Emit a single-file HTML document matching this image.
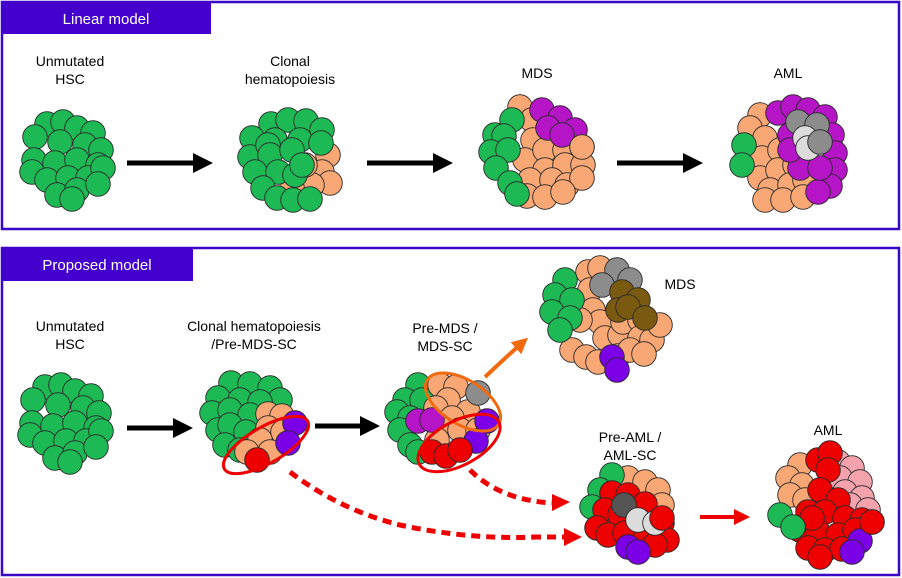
<!DOCTYPE html>
<html><head><meta charset="utf-8"><style>
body{margin:0;background:#fff;}
svg{display:block;font-family:"Liberation Sans",Arial,sans-serif;}
.g circle{stroke:#2a2a2a;stroke-width:0.9;r:12.3px;}
</style></head><body>
<svg width="902" height="578" viewBox="0 0 902 578" xmlns="http://www.w3.org/2000/svg">
<defs>
<marker id="ab" markerWidth="4" markerHeight="4" refX="2" refY="2" orient="auto" markerUnits="strokeWidth"><path d="M0,0 L4,2 L0,4z" fill="#000"/></marker>
<marker id="ar" markerWidth="4" markerHeight="4" refX="2" refY="2" orient="auto" markerUnits="strokeWidth"><path d="M0,0 L4,2 L0,4z" fill="#e00"/></marker>
<marker id="ao" markerWidth="4" markerHeight="4" refX="2" refY="2" orient="auto" markerUnits="strokeWidth"><path d="M0,0 L4,2 L0,4z" fill="#f26a10"/></marker>
<g id="hsc" class="g" fill="#1db954">
<circle cx="47" cy="124" r="11"/><circle cx="63" cy="122" r="11"/><circle cx="77" cy="128" r="11"/><circle cx="93" cy="133" r="11"/>
<circle cx="35" cy="137" r="11"/><circle cx="60" cy="142" r="11"/><circle cx="85" cy="145" r="11"/><circle cx="101" cy="150" r="11"/>
<circle cx="34" cy="160" r="11"/><circle cx="55" cy="163" r="11"/><circle cx="77" cy="160" r="11"/><circle cx="98" cy="165" r="11"/>
<circle cx="32" cy="172" r="11"/><circle cx="47" cy="180" r="11"/><circle cx="68" cy="178" r="11"/><circle cx="88" cy="178" r="11"/>
<circle cx="103" cy="168" r="11"/><circle cx="57" cy="195" r="11"/><circle cx="77" cy="190" r="11"/><circle cx="98" cy="184" r="11"/><circle cx="72" cy="199" r="11"/>
</g>
</defs>

<rect x="2" y="2" width="897" height="227" fill="none" stroke="#3a06c8" stroke-width="2.5"/>
<rect x="2" y="2" width="209" height="32" fill="#4400cc"/>
<text x="106" y="24" font-size="15" fill="#fff" text-anchor="middle">Linear model</text>
<rect x="2" y="248" width="897" height="327" fill="none" stroke="#3a06c8" stroke-width="2.5"/>
<rect x="2" y="248" width="191" height="33" fill="#4400cc"/>
<text x="97" y="270" font-size="15" fill="#fff" text-anchor="middle">Proposed model</text>

<g font-size="14" fill="#000" text-anchor="middle">
<text x="70" y="66">Unmutated</text><text x="70" y="84">HSC</text>
<text x="290" y="66">Clonal</text><text x="290" y="84">hematopoiesis</text>
<text x="537" y="78">MDS</text><text x="788" y="78">AML</text>
<text x="70" y="331">Unmutated</text><text x="70" y="349">HSC</text>
<text x="254" y="331">Clonal hematopoiesis</text><text x="254" y="349">/Pre-MDS-SC</text>
<text x="445" y="333">Pre-MDS /</text><text x="445" y="351">MDS-SC</text>
<text x="680" y="289">MDS</text>
<text x="630" y="442">Pre-AML /</text><text x="630" y="460">AML-SC</text>
<text x="828" y="435">AML</text>
</g>

<use href="#hsc"/>
<g class="g">
<g fill="#f9a774"><circle cx="328" cy="155" r="11"/><circle cx="322" cy="172" r="11"/><circle cx="330" cy="183" r="11"/><circle cx="312" cy="185" r="11"/><circle cx="292" cy="188" r="11"/><circle cx="305" cy="165" r="11"/></g>
<g fill="#1db954"><circle cx="271" cy="124" r="11"/><circle cx="288" cy="120" r="11"/><circle cx="306" cy="121" r="11"/><circle cx="322" cy="130" r="11"/>
<circle cx="252" cy="138" r="11"/><circle cx="275" cy="140" r="11"/><circle cx="300" cy="140" r="11"/><circle cx="321" cy="143" r="11"/>
<circle cx="250" cy="157" r="11"/><circle cx="268" cy="145" r="11"/><circle cx="270" cy="155" r="11"/><circle cx="292" cy="150" r="11"/>
<circle cx="255" cy="172" r="11"/><circle cx="278" cy="172" r="11"/><circle cx="295" cy="175" r="11"/><circle cx="302" cy="165" r="11"/>
<circle cx="263" cy="188" r="11"/><circle cx="277" cy="198" r="11"/><circle cx="293" cy="200" r="11"/><circle cx="310" cy="199" r="11"/></g>
</g>
<g class="g">
<g fill="#f9a774"><circle cx="520" cy="107" r="11"/><circle cx="532" cy="120" r="11"/><circle cx="533" cy="140" r="11"/><circle cx="525" cy="160" r="11"/><circle cx="545" cy="150" r="11"/><circle cx="565" cy="150" r="11"/><circle cx="582" cy="147" r="11"/><circle cx="545" cy="170" r="11"/><circle cx="565" cy="165" r="11"/><circle cx="583" cy="165" r="11"/><circle cx="530" cy="180" r="11"/><circle cx="552" cy="180" r="11"/><circle cx="567" cy="185" r="11"/><circle cx="582" cy="178" r="11"/><circle cx="527" cy="196" r="11"/><circle cx="545" cy="197" r="11"/><circle cx="563" cy="192" r="11"/></g>
<g fill="#1db954"><circle cx="512" cy="120" r="11"/><circle cx="495" cy="135" r="11"/><circle cx="504" cy="136" r="11"/><circle cx="491" cy="152" r="11"/><circle cx="508" cy="150" r="11"/><circle cx="496" cy="168" r="11"/><circle cx="510" cy="183" r="11"/><circle cx="517" cy="194" r="11"/></g>
<g fill="#b515c6"><circle cx="542" cy="110" r="11"/><circle cx="560" cy="118" r="11"/><circle cx="575" cy="130" r="11"/><circle cx="548" cy="128" r="11"/><circle cx="562" cy="135" r="11"/></g>
<circle cx="582" cy="147" r="11" fill="#f9a774"/>
</g>
<g class="g">
<g fill="#f9a774"><circle cx="760" cy="115" r="11"/><circle cx="750" cy="128" r="11"/><circle cx="765" cy="138" r="11"/><circle cx="762" cy="158" r="11"/><circle cx="780" cy="150" r="11"/><circle cx="760" cy="178" r="11"/><circle cx="778" cy="170" r="11"/><circle cx="795" cy="165" r="11"/><circle cx="770" cy="190" r="11"/><circle cx="790" cy="185" r="11"/><circle cx="805" cy="180" r="11"/><circle cx="765" cy="200" r="11"/><circle cx="783" cy="200" r="11"/><circle cx="803" cy="197" r="11"/></g>
<g fill="#1db954"><circle cx="744" cy="145" r="11"/><circle cx="742" cy="165" r="11"/></g>
<g fill="#b515c6"><circle cx="778" cy="113" r="11"/><circle cx="793" cy="107" r="11"/><circle cx="808" cy="110" r="11"/><circle cx="825" cy="117" r="11"/><circle cx="832" cy="135" r="11"/><circle cx="835" cy="153" r="11"/><circle cx="835" cy="170" r="11"/><circle cx="830" cy="186" r="11"/><circle cx="818" cy="192" r="11"/><circle cx="800" cy="168" r="11"/><circle cx="790" cy="135" r="11"/><circle cx="790" cy="150" r="11"/><circle cx="820" cy="168" r="11"/></g>
<g fill="#8c8c8c"><circle cx="798" cy="122" r="11"/><circle cx="817" cy="125" r="11"/></g>
<g fill="#dcdcdc"><circle cx="805" cy="138" r="11"/><circle cx="808" cy="148" r="11"/></g>
<circle cx="820" cy="142" r="11" fill="#8c8c8c"/>
</g>

<g stroke="#000" stroke-width="5">
<line x1="127" y1="163" x2="203" y2="163" marker-end="url(#ab)"/>
<line x1="367" y1="163" x2="443" y2="163" marker-end="url(#ab)"/>
<line x1="617" y1="163" x2="693" y2="163" marker-end="url(#ab)"/>
<line x1="127" y1="428" x2="183" y2="428" marker-end="url(#ab)"/>
<line x1="315" y1="426" x2="370" y2="426" marker-end="url(#ab)"/>
</g>

<use href="#hsc" transform="translate(-2,263)"/>

<g class="g">
<g fill="#1db954"><circle cx="231" cy="383" r="11"/><circle cx="250" cy="384" r="11"/><circle cx="270" cy="388" r="11"/><circle cx="280" cy="400" r="11"/><circle cx="218" cy="398" r="11"/><circle cx="240" cy="400" r="11"/><circle cx="260" cy="402" r="11"/><circle cx="212" cy="413" r="11"/><circle cx="230" cy="410" r="11"/><circle cx="250" cy="415" r="11"/><circle cx="218" cy="430" r="11"/><circle cx="230" cy="425" r="11"/><circle cx="246" cy="432" r="11"/><circle cx="225" cy="445" r="11"/><circle cx="240" cy="450" r="11"/></g>
<g fill="#f9a774"><circle cx="268" cy="414" r="11"/><circle cx="282" cy="416" r="11"/><circle cx="268" cy="428" r="11"/><circle cx="283" cy="432" r="11"/><circle cx="260" cy="440" r="11"/><circle cx="270" cy="452" r="11"/><circle cx="247" cy="452" r="11"/></g>
<g fill="#7b00e8"><circle cx="295" cy="423" r="10"/><circle cx="288" cy="443" r="10"/></g>
<g fill="#ee0000"><circle cx="257" cy="460" r="11"/></g>
</g>
<ellipse cx="266" cy="445" rx="48" ry="18" transform="rotate(-30 266 445)" fill="none" stroke="#e00" stroke-width="3"/>

<g class="g">
<g fill="#1db954"><circle cx="418" cy="385" r="11"/><circle cx="405" cy="400" r="11"/><circle cx="422" cy="400" r="11"/><circle cx="397" cy="412" r="11"/><circle cx="410" cy="418" r="11"/><circle cx="400" cy="430" r="11"/><circle cx="410" cy="445" r="11"/><circle cx="418" cy="452" r="11"/></g>
<g fill="#f9a774"><circle cx="440" cy="385" r="11"/><circle cx="456" cy="387" r="11"/><circle cx="448" cy="400" r="11"/><circle cx="436" cy="408" r="11"/><circle cx="468" cy="412" r="11"/><circle cx="452" cy="418" r="11"/><circle cx="438" cy="425" r="11"/><circle cx="460" cy="430" r="11"/><circle cx="478" cy="430" r="11"/><circle cx="437" cy="440" r="11"/></g>
<circle cx="478" cy="393" r="11" fill="#8c8c8c"/>
<g fill="#b515c6"><circle cx="418" cy="421" r="11"/><circle cx="432" cy="420" r="10"/></g>
<g fill="#7b00e8"><circle cx="487" cy="421" r="10"/><circle cx="476" cy="441" r="11"/></g>
<g fill="#ee0000"><circle cx="432" cy="452" r="11"/><circle cx="446" cy="456" r="11"/><circle cx="460" cy="450" r="11"/></g>
</g>
<ellipse cx="463" cy="402" rx="42" ry="22" transform="rotate(32 463 402)" fill="none" stroke="#f26a10" stroke-width="3"/>
<ellipse cx="459" cy="443" rx="45" ry="22" transform="rotate(-28 459 443)" fill="none" stroke="#e00" stroke-width="3"/>

<path d="M485,377 Q505,358 522,343" fill="none" stroke="#f26a10" stroke-width="4" marker-end="url(#ao)"/>

<g class="g">
<g fill="#f9a774"><circle cx="588" cy="272" r="11"/><circle cx="600" cy="268" r="11"/><circle cx="590" cy="290" r="11"/><circle cx="593" cy="310" r="11"/><circle cx="600" cy="322" r="11"/><circle cx="605" cy="338" r="11"/><circle cx="620" cy="335" r="11"/><circle cx="623" cy="322" r="11"/><circle cx="640" cy="320" r="11"/><circle cx="640" cy="338" r="11"/><circle cx="652" cy="340" r="11"/><circle cx="660" cy="325" r="11"/><circle cx="572" cy="350" r="11"/><circle cx="586" cy="357" r="11"/><circle cx="598" cy="362" r="11"/><circle cx="618" cy="356" r="11"/><circle cx="630" cy="350" r="11"/><circle cx="644" cy="354" r="11"/><circle cx="580" cy="320" r="11"/></g>
<g fill="#1db954"><circle cx="565" cy="280" r="11"/><circle cx="555" cy="295" r="11"/><circle cx="572" cy="300" r="11"/><circle cx="552" cy="312" r="11"/><circle cx="570" cy="318" r="11"/><circle cx="560" cy="330" r="11"/></g>
<g fill="#8c8c8c"><circle cx="617" cy="270" r="11"/><circle cx="630" cy="280" r="11"/><circle cx="602" cy="285" r="11"/></g>
<g fill="#7a5a10"><circle cx="622" cy="292" r="11"/><circle cx="638" cy="300" r="11"/><circle cx="618" cy="310" r="11"/><circle cx="628" cy="307" r="11"/><circle cx="645" cy="318" r="11"/></g>
<g fill="#7b00e8"><circle cx="612" cy="357" r="10"/><circle cx="617" cy="370" r="10"/></g>
</g>

<path d="M290,472 Q340,510 400,525 Q470,540 538,537" fill="none" stroke="#e00" stroke-width="5" stroke-dasharray="9,6"/>
<path d="M532,537 L566,537" stroke="#e00" stroke-width="5" stroke-dasharray="9,6"/>
<path d="M564,528 L582,537 L564,546z" fill="#e00"/>
<path d="M470,470 Q500,500 552,503" fill="none" stroke="#e00" stroke-width="5" stroke-dasharray="9,6"/>
<path d="M552,494 L570,502 L552,511z" fill="#e00"/>

<g class="g">
<g fill="#f9a774"><circle cx="628" cy="478" r="11"/><circle cx="645" cy="482" r="11"/><circle cx="658" cy="490" r="11"/><circle cx="662" cy="505" r="11"/></g>
<g fill="#1db954"><circle cx="612" cy="475" r="11"/><circle cx="600" cy="490" r="11"/><circle cx="592" cy="507" r="11"/></g>
<g fill="#ee0000"><circle cx="612" cy="493" r="11"/><circle cx="628" cy="495" r="11"/><circle cx="645" cy="504" r="11"/><circle cx="605" cy="510" r="11"/><circle cx="620" cy="515" r="11"/><circle cx="597" cy="528" r="11"/><circle cx="608" cy="535" r="11"/><circle cx="625" cy="533" r="11"/><circle cx="645" cy="540" r="11"/><circle cx="662" cy="523" r="11"/><circle cx="667" cy="540" r="11"/><circle cx="655" cy="545" r="11"/></g>
<g fill="#555"><circle cx="624" cy="505" r="10"/></g>
<g fill="#dcdcdc"><circle cx="638" cy="520" r="11"/><circle cx="655" cy="523" r="10"/></g>
<circle cx="662" cy="518" r="11" fill="#ee0000"/>
<g fill="#7b00e8"><circle cx="628" cy="547" r="11"/><circle cx="638" cy="552" r="11"/></g>
</g>

<line x1="700" y1="517" x2="742" y2="517" stroke="#e00" stroke-width="4" marker-end="url(#ar)"/>

<g class="g">
<g fill="#f9a774"><circle cx="800" cy="465" r="11"/><circle cx="788" cy="478" r="11"/><circle cx="802" cy="485" r="11"/><circle cx="790" cy="495" r="11"/><circle cx="805" cy="500" r="11"/></g>
<g fill="#f4a3ad"><circle cx="838" cy="462" r="11"/><circle cx="852" cy="468" r="11"/><circle cx="840" cy="478" r="11"/><circle cx="860" cy="482" r="11"/><circle cx="845" cy="492" r="11"/><circle cx="862" cy="498" r="11"/><circle cx="850" cy="505" r="11"/><circle cx="868" cy="510" r="11"/></g>
<g fill="#ee0000"><circle cx="818" cy="460" r="11"/><circle cx="830" cy="453" r="11"/><circle cx="828" cy="470" r="11"/><circle cx="820" cy="490" r="11"/><circle cx="838" cy="500" r="11"/><circle cx="808" cy="512" r="11"/><circle cx="825" cy="512" r="11"/><circle cx="845" cy="518" r="11"/><circle cx="862" cy="520" r="11"/><circle cx="872" cy="522" r="11"/><circle cx="800" cy="530" r="11"/><circle cx="818" cy="532" r="11"/><circle cx="838" cy="535" r="11"/><circle cx="855" cy="530" r="11"/><circle cx="808" cy="548" r="11"/><circle cx="825" cy="550" r="11"/><circle cx="842" cy="549" r="11"/><circle cx="820" cy="557" r="11"/><circle cx="812" cy="518" r="11"/></g>
<g fill="#1db954"><circle cx="780" cy="515" r="11"/><circle cx="793" cy="527" r="11"/></g>
<g fill="#7b00e8"><circle cx="860" cy="541" r="11"/><circle cx="852" cy="552" r="10"/></g>
<circle cx="872" cy="522" r="11" fill="#ee0000"/>
</g>
</svg>
</body></html>
